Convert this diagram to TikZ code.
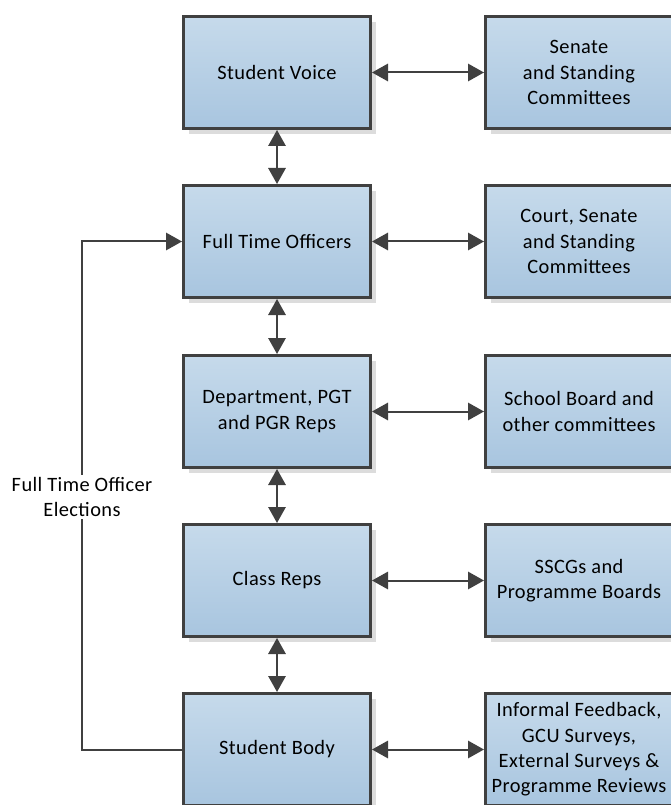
\documentclass[tikz,border=0pt]{standalone}
\usepackage{fontspec}
\setmainfont{Carlito}[LetterSpace=2]
\usetikzlibrary{arrows.meta,shadows,calc}
\definecolor{edge}{HTML}{404040}
\definecolor{btop}{HTML}{C6DAEB}
\definecolor{bbot}{HTML}{A8C5DF}
\definecolor{shade}{HTML}{DCDCDC}
\begin{document}
\begin{tikzpicture}[x=0.75pt,y=0.75pt,
  box/.style={draw=edge, line width=2.25pt, top color=btop, bottom color=bbot,
    minimum width=140.25pt, minimum height=84pt, inner sep=2pt, align=center,
    font=\fontsize{15.3}{19}\selectfont,
    drop shadow={shadow xshift=4pt, shadow yshift=-4pt, fill=shade, opacity=1}},
  link/.style={draw=edge, line width=1.5pt, {Triangle[length=12pt,width=13pt]}-{Triangle[length=12pt,width=13pt]}},
  feed/.style={draw=edge, line width=1.5pt, -{Triangle[length=12pt,width=13pt]}},
  lbl/.style={fill=white, inner sep=2pt, align=center, font=\fontsize{15.3}{19}\selectfont}]
\useasboundingbox (0,0) rectangle (670,-805);
\node[box] (sv) at (277,-72.5) {Student Voice};
\node[box] (fto) at (277,-241.5) {Full Time Officers};
\node[box] (dep) at (277,-411.5) {Department, PGT\\and PGR Reps};
\node[box] (cr) at (277,-580.5) {Class Reps};
\node[box] (sb) at (277,-749.5) {Student Body};
\node[box] (sen) at (579,-72.5) {Senate\\and Standing\\Committees};
\node[box] (court) at (579,-241.5) {Court, Senate\\and Standing\\Committees};
\node[box] (sch) at (579,-411.5) {School Board and\\other committees};
\node[box] (ssc) at (579,-580.5) {SSCGs and\\Programme Boards};
\node[box] (inf) at (579,-749.5) {Informal Feedback,\\GCU Surveys,\\External Surveys \&\\Programme Reviews};
\draw[link] (sv) -- (sen);
\draw[link] (fto) -- (court);
\draw[link] (dep) -- (sch);
\draw[link] (cr) -- (ssc);
\draw[link] (sb) -- (inf);
\draw[link] (sv) -- (fto);
\draw[link] (fto) -- (dep);
\draw[link] (dep) -- (cr);
\draw[link] (cr) -- (sb);
\coordinate (c1) at (82,-749.5);
\coordinate (c2) at (82,-241.5);
\draw[feed] (sb.west) -- (c1) -- (c2) -- (fto.west);
\node[lbl] (el) at (82,-497) {Full Time Officer\\Elections};
\end{tikzpicture}
\end{document}
